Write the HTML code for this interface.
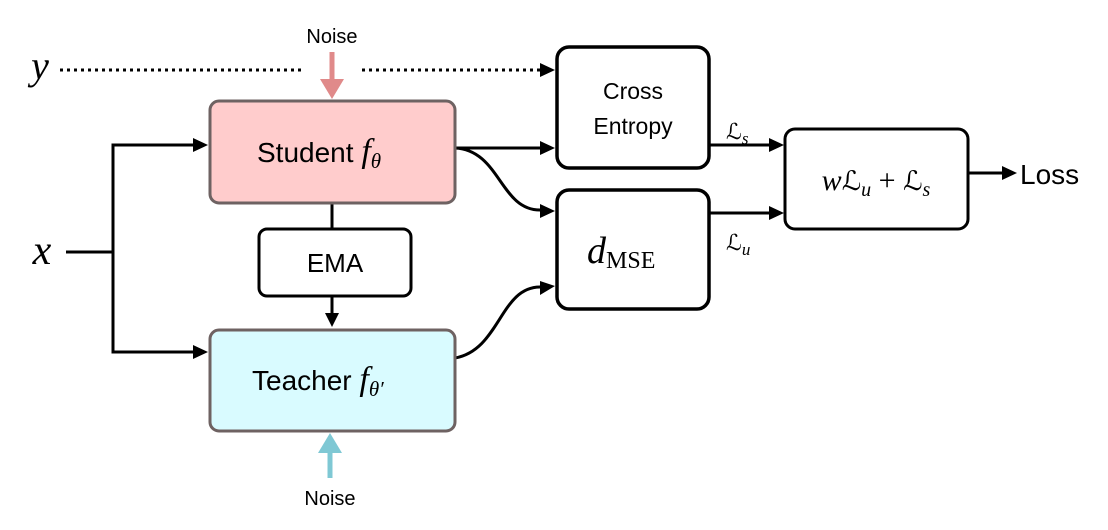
<!DOCTYPE html>
<html><head><meta charset="utf-8"><style>body{margin:0;background:#fff}svg{display:block}
.s{font-family:"Liberation Sans",sans-serif}.m{font-family:"Liberation Serif",serif;font-style:italic}
.L{font-family:"DejaVu Serif","DejaVu Sans",serif;font-style:italic}</style></head>
<body><svg width="1108" height="530" viewBox="0 0 1108 530" xmlns="http://www.w3.org/2000/svg">
<g fill="none" stroke="#000" stroke-width="3">
<line x1="60" y1="70" x2="305" y2="70" stroke-dasharray="3,4"/>
<line x1="362" y1="70" x2="540" y2="70" stroke-dasharray="3,4"/>
<polyline points="66,252 113,252"/>
<polyline points="195,145 113,145 113,352 195,352"/>
<line x1="455" y1="148" x2="540" y2="148"/>
<path d="M455,148 C500,150 500,210 540,210"/>
<path d="M455,358 C500,350 500,287 540,287"/>
<line x1="332" y1="203" x2="332" y2="229"/>
<line x1="332" y1="296" x2="332" y2="314"/>
<line x1="709" y1="145" x2="770" y2="145"/>
<line x1="709" y1="213" x2="770" y2="213"/>
<line x1="968" y1="173" x2="1003" y2="173"/>
</g>
<g fill="#000">
<path d="M555,70 l-15,-7 v14z"/>
<path d="M208,145 l-15,-7 v14z"/>
<path d="M208,352 l-15,-7 v14z"/>
<path d="M555,148 l-15,-7 v14z"/>
<path d="M555,211 l-15,-7 v14z"/>
<path d="M555,286 l-15,-5 v14z"/>
<path d="M332,327 l-7,-14 h14z"/>
<path d="M784,145 l-15,-7 v14z"/>
<path d="M784,213 l-15,-7 v14z"/>
<path d="M1017,173 l-15,-7 v14z"/>
</g>
<line x1="332" y1="52" x2="332" y2="80" stroke="#e08a8a" stroke-width="5"/>
<path d="M332,99 l-12,-20 h24z" fill="#e08a8a"/>
<line x1="330" y1="478" x2="330" y2="452" stroke="#7fc8d4" stroke-width="5"/>
<path d="M330,433 l-12,20 h24z" fill="#7fc8d4"/>
<rect x="210" y="101" width="245" height="102" rx="9" fill="#ffcccc" stroke="#6e6262" stroke-width="3"/>
<rect x="210" y="330" width="245" height="101" rx="9" fill="#d9fbff" stroke="#6e6262" stroke-width="3"/>
<rect x="259" y="229" width="152" height="67" rx="8" fill="#fff" stroke="#000" stroke-width="3"/>
<rect x="557" y="47" width="152" height="121" rx="12" fill="#fff" stroke="#000" stroke-width="3.5"/>
<rect x="557" y="190" width="152" height="119" rx="12" fill="#fff" stroke="#000" stroke-width="3.5"/>
<rect x="785" y="129" width="183" height="100" rx="10" fill="#fff" stroke="#000" stroke-width="3"/>
<text x="332" y="43" class="s" font-size="20" text-anchor="middle">Noise</text>
<text x="330" y="505" class="s" font-size="20" text-anchor="middle">Noise</text>
<text x="40" y="79" class="m" font-size="40" text-anchor="middle">y</text>
<text x="42" y="264" class="m" font-size="42" text-anchor="middle">x</text>
<text x="257" y="162" class="s" font-size="28">Student <tspan class="m" font-size="34">f</tspan><tspan class="m" font-size="21" dy="6">θ</tspan></text>
<text x="252" y="390" class="s" font-size="28">Teacher <tspan class="m" font-size="34">f</tspan><tspan class="m" font-size="21" dy="6">θ′</tspan></text>
<text x="335" y="272" class="s" font-size="26" text-anchor="middle">EMA</text>
<text x="633" y="99" class="s" font-size="23" text-anchor="middle">Cross</text>
<text x="633" y="134" class="s" font-size="23" text-anchor="middle">Entropy</text>
<text x="587" y="263" class="m" font-size="38">d<tspan font-style="normal" font-size="24" dy="5">MSE</tspan></text>
<text x="726" y="139" class="L" font-size="22">ℒ<tspan class="m" font-size="17" dy="5">s</tspan></text>
<text x="726" y="250" class="L" font-size="22">ℒ<tspan class="m" font-size="17" dy="5">u</tspan></text>
<text x="876" y="190" class="m" font-size="30" text-anchor="middle">w<tspan class="L" font-size="27">ℒ</tspan><tspan font-size="20" dy="6">u</tspan><tspan dy="-6" font-style="normal"> + </tspan><tspan class="L" font-size="27">ℒ</tspan><tspan font-size="20" dy="6">s</tspan></text>
<text x="1020" y="184" class="s" font-size="28">Loss</text>
</svg></body></html>
